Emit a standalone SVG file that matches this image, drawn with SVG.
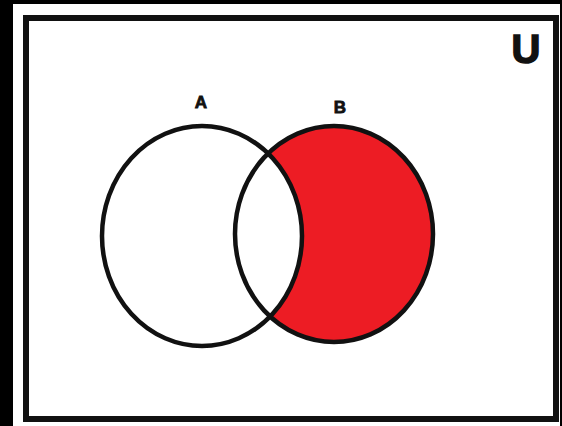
<svg xmlns="http://www.w3.org/2000/svg" width="562" height="426" viewBox="0 0 562 426">
<style>
.outline{fill:none;stroke:#111;stroke-width:4.5}
.lbl{font-family:"Liberation Sans",Arial,sans-serif;font-weight:bold;fill:#111;text-anchor:middle}
</style>
<rect x="0" y="0" width="562" height="426" fill="#000"/>
<rect x="13" y="4" width="547" height="422" fill="#fff"/>
<g id="universe">
<rect x="26" y="18" width="530" height="401" fill="#fff" stroke="#111" stroke-width="6"/>
<text class="lbl" x="526" y="63" font-size="40" stroke="#111" stroke-width="1.5">U</text>
</g>
<g id="setB">
<ellipse cx="334" cy="234" rx="99" ry="108" fill="#ED1C24"/>
</g>
<g id="setA">
<ellipse cx="202" cy="236" rx="100" ry="110" fill="#fff"/>
</g>
<g id="outlines">
<ellipse class="outline" cx="202" cy="236" rx="100" ry="110"/>
<ellipse class="outline" cx="334" cy="234" rx="99" ry="108"/>
</g>
<g id="labels">
<text class="lbl" x="201" y="108" font-size="17" stroke="#111" stroke-width="0.8">A</text>
<text class="lbl" x="340" y="113" font-size="17" stroke="#111" stroke-width="0.8">B</text>
</g>
</svg>
